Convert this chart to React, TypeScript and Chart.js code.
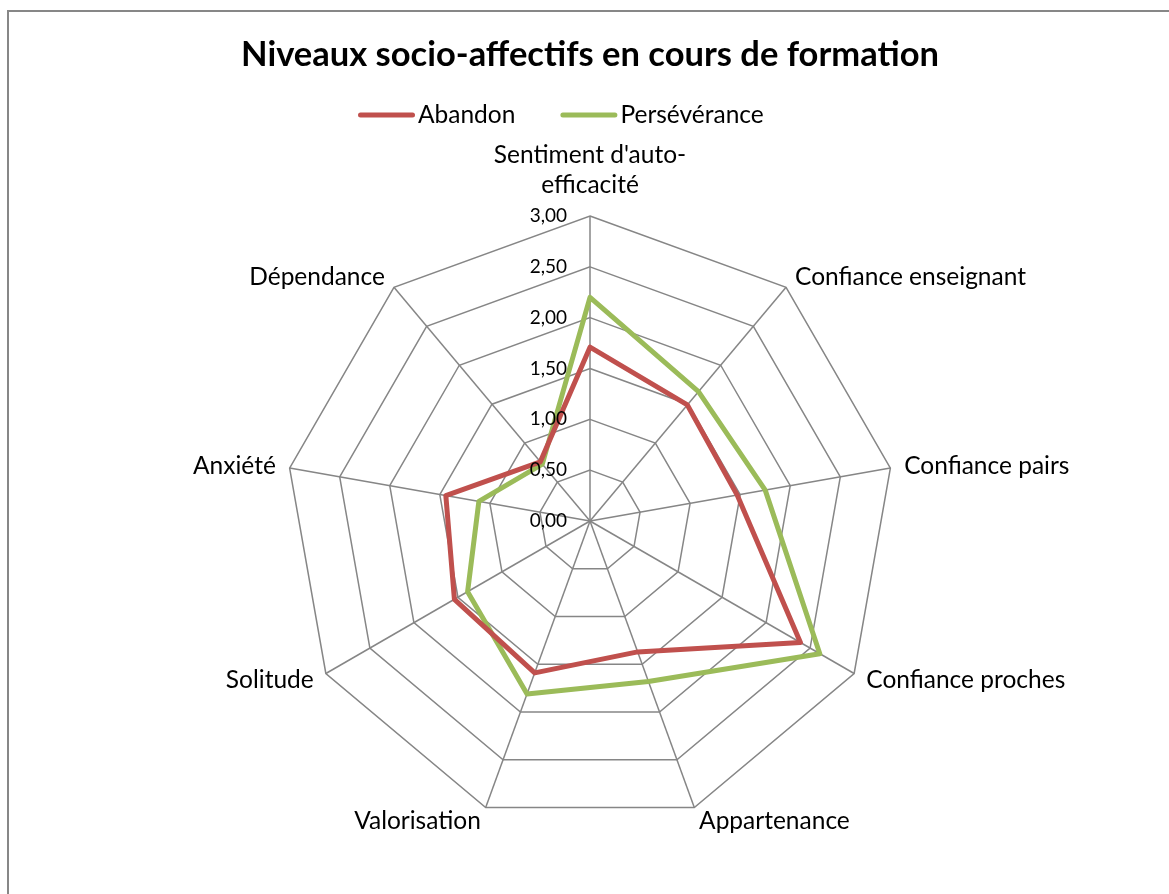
import React, { useEffect, useRef } from "react";
import { Chart, registerables } from "chart.js";

Chart.register(...registerables);

const TITLE = "Niveaux socio-affectifs en cours de formation";
const CATEGORIES: (string | string[])[] = [
  ["Sentiment d'auto-", "efficacité"],
  "Confiance enseignant",
  "Confiance pairs",
  "Confiance proches",
  "Appartenance",
  "Valorisation",
  "Solitude",
  "Anxiété",
  "Dépendance",
];
const ABANDON = [1.71, 1.49, 1.47, 2.39, 1.37, 1.59, 1.54, 1.44, 0.76];
const PERSEVERANCE = [2.2, 1.66, 1.75, 2.61, 1.68, 1.81, 1.39, 1.11, 0.73];
const SERIES_NAMES = ["Abandon", "Persévérance"];
const SERIES_COLORS = ["#C0504D", "#9BBB59"];
const TICK_VALUES = [0, 0.5, 1, 1.5, 2, 2.5, 3];

const FONT = "Lato";
const GRID = "#868686";

const textPlugin = {
  id: "radarText",
  afterDatasetsDraw(chart: any) {
    const scale = chart.scales.r;
    const ctx: CanvasRenderingContext2D = chart.ctx;
    ctx.save();
    ctx.fillStyle = "#000";

    // tick labels, left of the vertical axis
    ctx.font = `19px ${FONT}`;
    ctx.textAlign = "right";
    ctx.textBaseline = "middle";
    TICK_VALUES.forEach((v) => {
      const d = scale.getDistanceFromCenterForValue(v);
      ctx.fillText(v.toFixed(2).replace(".", ","), scale.xCenter - 23, scale.yCenter - d);
    });

    // point labels
    ctx.font = `24.5px ${FONT}`;
    const lh = 30;
    CATEGORIES.forEach((label, i) => {
      const p = scale.getPointPosition(i, scale.drawingArea);
      const a = scale.getIndexAngle(i);
      const s = Math.sin(a);
      const c = Math.cos(a);
      const lines = Array.isArray(label) ? label : [label];
      const h = lines.length * lh;
      const gy = lines.length > 1 ? 16 : -1;
      const x = p.x + 14 * s;
      const cy = p.y - c * (h / 2 + gy);
      ctx.textAlign = Math.abs(s) < 0.01 ? "center" : s > 0 ? "left" : "right";
      ctx.textBaseline = "middle";
      lines.forEach((ln, k) => {
        ctx.fillText(ln, x, cy - h / 2 + lh / 2 + k * lh);
      });
    });

    // legend
    ctx.font = `24.5px ${FONT}`;
    ctx.textAlign = "left";
    ctx.textBaseline = "middle";
    ctx.lineCap = "round";
    ctx.lineWidth = 5;
    const ly = 115;
    let lx = 358;
    SERIES_NAMES.forEach((name, k) => {
      ctx.strokeStyle = SERIES_COLORS[k];
      ctx.beginPath();
      ctx.moveTo(lx + 2.5, ly);
      ctx.lineTo(lx + 54.5, ly);
      ctx.stroke();
      ctx.fillText(name, lx + 60, ly);
      lx += 60 + ctx.measureText(name).width + 45;
    });
    ctx.restore();
  },
};

export default function App() {
  const ref = useRef<HTMLCanvasElement>(null);
  useEffect(() => {
    const chart = new Chart(ref.current as HTMLCanvasElement, {
      type: "radar",
      data: {
        labels: CATEGORIES as any,
        datasets: [
          {
            label: SERIES_NAMES[0],
            data: ABANDON,
            borderColor: SERIES_COLORS[0],
            backgroundColor: SERIES_COLORS[0],
            borderWidth: 5,
            fill: false,
            pointRadius: 0,
            borderJoinStyle: "round",
            borderCapStyle: "round",
          },
          {
            label: SERIES_NAMES[1],
            data: PERSEVERANCE,
            borderColor: SERIES_COLORS[1],
            backgroundColor: SERIES_COLORS[1],
            borderWidth: 5,
            fill: false,
            pointRadius: 0,
            borderJoinStyle: "round",
            borderCapStyle: "round",
          },
        ],
      },
      options: {
        responsive: false,
        animation: false,
        layout: { padding: { left: 0, right: 0, top: 0, bottom: 66.5 } },
        plugins: {
          legend: { display: false },
          tooltip: { enabled: false },
          title: {
            display: true,
            text: TITLE,
            color: "#000",
            font: { family: FONT, size: 34.5, weight: "bold" },
            padding: { top: 34.3, bottom: 140.7 },
          },
        },
        scales: {
          r: {
            min: 0,
            max: 3,
            ticks: { stepSize: 0.5, display: false },
            grid: { color: GRID, lineWidth: 1.5, circular: false },
            angleLines: { color: GRID, lineWidth: 1.5 },
            pointLabels: { display: false },
          },
        },
      },
      plugins: [textPlugin],
    } as any);
    return () => chart.destroy();
  }, []);
  return (
    <div
      style={{
        position: "fixed",
        left: 0,
        top: 0,
        width: 1169,
        height: 894,
        overflow: "hidden",
        background: "#fff",
      }}
    >
      <div
        style={{
          position: "absolute",
          left: 7,
          top: 10,
          width: 1400,
          height: 1200,
          borderLeft: "2px solid #878787",
          borderTop: "2px solid #878787",
        }}
      />
      <canvas
        ref={ref}
        width={1180}
        height={894}
        style={{ position: "absolute", left: 0, top: 0, width: 1180, height: 894 }}
      />
    </div>
  );
}
